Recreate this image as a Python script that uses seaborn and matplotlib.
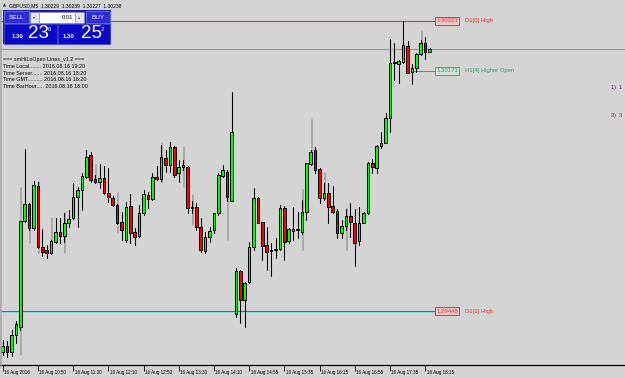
import numpy as np
import pandas as pd
import matplotlib
matplotlib.use("Agg")
import matplotlib.pyplot as plt
import seaborn as sns
from matplotlib.patches import Rectangle
from matplotlib.lines import Line2D

# ---------------- data (GBPUSD M5, 16 Aug 2016) ----------------
opens = [1.29325, 1.29343, 1.29325, 1.29376, 1.29400, 1.29719, 1.29770, 1.29698, 1.29824, 1.29641,
         1.29632, 1.29623, 1.29656, 1.29686, 1.29674, 1.29713, 1.29728, 1.29791, 1.29812, 1.29851,
         1.29917, 1.29845, 1.29836, 1.29848, 1.29803, 1.29788, 1.29767, 1.29716, 1.29662, 1.29764,
         1.29686, 1.29674, 1.29743, 1.29797, 1.29785, 1.29851, 1.29845, 1.29908, 1.29887, 1.29942,
         1.29863, 1.29881, 1.29881, 1.29758, 1.29761, 1.29701, 1.29629, 1.29671, 1.29692, 1.29743,
         1.29854, 1.29866, 1.29779, 1.29439, 1.29568, 1.29481, 1.29535, 1.29641, 1.29788, 1.29716,
         1.29647, 1.29629, 1.29632, 1.29635, 1.29758, 1.29659, 1.29689, 1.29695, 1.29686, 1.29746,
         1.29890, 1.29933, 1.29875, 1.29788, 1.29803, 1.29764, 1.29749, 1.29683, 1.29704, 1.29734,
         1.29713, 1.29659, 1.29713, 1.29743, 1.29893, 1.29878, 1.29945, 1.29954, 1.30029, 1.30194,
         1.30191, 1.30197, 1.30245, 1.30167, 1.30179, 1.30221, 1.30254, 1.30229]
highs = [1.29361, 1.29358, 1.29391, 1.29418, 1.29719, 1.29936, 1.29773, 1.29839, 1.29836, 1.29695,
         1.29647, 1.29662, 1.29728, 1.29728, 1.29743, 1.29752, 1.29833, 1.29821, 1.29863, 1.29933,
         1.29926, 1.29857, 1.29890, 1.29884, 1.29878, 1.29794, 1.29770, 1.29746, 1.29776, 1.29800,
         1.29698, 1.29767, 1.29812, 1.29806, 1.29863, 1.29884, 1.29948, 1.29933, 1.29957, 1.29945,
         1.29902, 1.29902, 1.29884, 1.29779, 1.29773, 1.29728, 1.29686, 1.29701, 1.29743, 1.29863,
         1.29887, 1.29872, 1.30107, 1.29577, 1.29571, 1.29535, 1.29656, 1.29818, 1.29791, 1.29716,
         1.29701, 1.29653, 1.29668, 1.29767, 1.29764, 1.29698, 1.29761, 1.29746, 1.29782, 1.29893,
         1.29933, 1.29942, 1.29878, 1.29833, 1.29833, 1.29824, 1.29755, 1.29722, 1.29755, 1.29773,
         1.29755, 1.29761, 1.29746, 1.29896, 1.29905, 1.29948, 1.29987, 1.30044, 1.30267, 1.30255,
         1.30203, 1.30321, 1.30261, 1.30191, 1.30224, 1.30264, 1.30273, 1.30239]
lows = [1.29316, 1.29310, 1.29313, 1.29352, 1.29391, 1.29716, 1.29692, 1.29692, 1.29638, 1.29614,
        1.29607, 1.29620, 1.29653, 1.29653, 1.29656, 1.29701, 1.29725, 1.29701, 1.29752, 1.29848,
        1.29836, 1.29833, 1.29818, 1.29800, 1.29776, 1.29764, 1.29710, 1.29662, 1.29656, 1.29653,
        1.29647, 1.29671, 1.29737, 1.29758, 1.29782, 1.29842, 1.29839, 1.29866, 1.29866, 1.29851,
        1.29836, 1.29872, 1.29743, 1.29743, 1.29692, 1.29626, 1.29623, 1.29656, 1.29683, 1.29737,
        1.29851, 1.29779, 1.29779, 1.29430, 1.29412, 1.29400, 1.29532, 1.29632, 1.29713, 1.29601,
        1.29571, 1.29553, 1.29607, 1.29632, 1.29601, 1.29653, 1.29662, 1.29668, 1.29680, 1.29722,
        1.29887, 1.29863, 1.29773, 1.29782, 1.29713, 1.29743, 1.29668, 1.29668, 1.29692, 1.29671,
        1.29583, 1.29647, 1.29713, 1.29740, 1.29863, 1.29863, 1.29939, 1.29954, 1.29987, 1.30143,
        1.30134, 1.30194, 1.30164, 1.30131, 1.30167, 1.30218, 1.30206, 1.30227]
closes = [1.29343, 1.29325, 1.29376, 1.29409, 1.29719, 1.29770, 1.29698, 1.29827, 1.29641, 1.29626,
          1.29623, 1.29659, 1.29686, 1.29674, 1.29713, 1.29725, 1.29791, 1.29812, 1.29854, 1.29911,
          1.29842, 1.29836, 1.29848, 1.29803, 1.29791, 1.29767, 1.29713, 1.29692, 1.29761, 1.29683,
          1.29671, 1.29743, 1.29800, 1.29785, 1.29851, 1.29845, 1.29911, 1.29887, 1.29942, 1.29857,
          1.29881, 1.29887, 1.29758, 1.29761, 1.29701, 1.29632, 1.29671, 1.29689, 1.29743, 1.29857,
          1.29872, 1.29791, 1.29987, 1.29568, 1.29481, 1.29532, 1.29641, 1.29788, 1.29713, 1.29644,
          1.29626, 1.29632, 1.29635, 1.29758, 1.29656, 1.29695, 1.29695, 1.29692, 1.29746, 1.29893,
          1.29926, 1.29872, 1.29788, 1.29803, 1.29761, 1.29746, 1.29683, 1.29704, 1.29734, 1.29716,
          1.29653, 1.29713, 1.29743, 1.29893, 1.29881, 1.29945, 1.29954, 1.30029, 1.30194, 1.30197,
          1.30200, 1.30248, 1.30164, 1.30179, 1.30221, 1.30254, 1.30227, 1.30238]

# grey "ghost" wick ranges drawn behind some candles
shadow_idx = [4, 6, 8, 11, 14, 21, 26, 36, 41, 43, 51, 68, 70, 73, 78, 95]
shadow_high = [1.29818, 1.29773, 1.29836, 1.29728, 1.29743, 1.29887, 1.29803, 1.29954, 1.29942,
               1.29797, 1.29872, 1.29812, 1.30023, 1.29863, 1.29755, 1.30291]
shadow_low = [1.29316, 1.29653, 1.29623, 1.29620, 1.29623, 1.29833, 1.29683, 1.29833, 1.29821,
              1.29707, 1.29662, 1.29632, 1.29887, 1.29782, 1.29632, 1.30218]

tick_bars = [0, 8, 16, 24, 32, 40, 48, 56, 64, 72, 80, 88, 96]
tick_labels = ["16 Aug 2016", "16 Aug 10:50", "16 Aug 11:30", "16 Aug 12:10", "16 Aug 12:50",
               "16 Aug 13:30", "16 Aug 14:10", "16 Aug 14:55", "16 Aug 15:35", "16 Aug 16:15",
               "16 Aug 16:55", "16 Aug 17:35", "16 Aug 18:15"]

level_prices = [1.30321, 1.30171, 1.29448]
level_names = ["D1[0] High", "H1[4] Higher Open", "D1[1] High"]
level_texts = ["1.30321", "1.30171", "1.29448"]
bid_price = 1.30236

info_lines = ["=== smHiLoOpen Lines_v1.2 ===",
              "Time Local........ 2016.08.16 19:20",
              "Time Server....... 2016.08.16 18:20",
              "Time GMT.......... 2016.08.16 16:20",
              "Time BarHour..... 2016.08.16 18:00"]

# ---------------- figure ----------------
sns.set_theme(style="white")
plt.rcParams["font.family"] = ["Liberation Sans", "DejaVu Sans"]
BG = "#d4d4d4"
W, H = 625, 378
fig = plt.figure(figsize=(W / 100, H / 100), dpi=100)
fig.patch.set_facecolor(BG)

ax = fig.add_axes([0, 13 / H, 1, 355 / H])
ax.set_facecolor(BG)
ax.set_xlim(-2.7 / 4.4, (W - 2.7) / 4.4)
ax.set_ylim(1.292856, 1.303541)

n = len(opens)
idx = np.arange(n)
o = np.array(opens); c = np.array(closes); hi = np.array(highs); lo = np.array(lows)

# ghost wicks
gdf = pd.DataFrame({"bar": np.repeat(np.array(shadow_idx) + 0.25, 2),
                    "price": np.ravel(np.column_stack([shadow_high, shadow_low]))})
sns.lineplot(data=gdf, x="bar", y="price", units="bar", estimator=None, sort=False,
             color="#9c9c9c", linewidth=1.1, ax=ax, zorder=1, legend=False)

# level lines
ax.axhline(bid_price, color="#8e96a4", lw=0.75, zorder=0.5)
ax.hlines(level_prices[0], -1, 98.25, color="#ff2020", lw=0.75, zorder=0.6)
ax.hlines(level_prices[1], 93.0, 98.25, color="#4c9a74", lw=0.75, zorder=0.6)
ax.hlines(level_prices[2], -1, 98.25, color="#ff2020", lw=0.75, zorder=0.6)
ax.hlines(level_prices[2] - 0.00003, -1, 98.25, color="#8fe0e0", lw=0.75, zorder=0.55)

# wicks
wdf = pd.DataFrame({"bar": np.repeat(idx, 2), "price": np.ravel(np.column_stack([hi, lo]))})
sns.lineplot(data=wdf, x="bar", y="price", units="bar", estimator=None, sort=False,
             color="black", linewidth=0.75, ax=ax, zorder=2, legend=False)

# bodies
bottoms = np.minimum(o, c)
heights = np.maximum(np.abs(c - o), 0.000005)
cols = ["#00ff00" if cc >= oo else "#ff0000" for oo, cc in zip(o, c)]
ax.bar(idx, heights, bottom=bottoms, width=0.6, color=cols, edgecolor="black",
       linewidth=0.7, zorder=3)

# level labels
lvl_style = [("#e83030", "#f2c6c6", "#e02020"), ("#3a9a6a", "#d2e2da", "#3a9a6a"),
             ("#e83030", "#f2c6c6", "#e02020")]
for p, name, txt, (tc, fc, ec) in zip(level_prices, level_names, level_texts, lvl_style):
    ax.text(101.0, p, txt, ha="center", va="center", fontsize=4.3, color=tc, zorder=5,
            bbox=dict(boxstyle="square,pad=0.2", fc=fc, ec=ec, lw=0.6))
    ax.text(105.0, p, name, ha="left", va="center", fontsize=4.2, color=tc, zorder=5)

# axes styling
ax.set_xlabel(""); ax.set_ylabel("")
for s in ["top", "left", "right"]:
    ax.spines[s].set_visible(False)
ax.spines["bottom"].set_color("black")
ax.spines["bottom"].set_linewidth(0.9)
ax.set_yticks([])
ax.set_xticks(tick_bars)
ax.set_xticklabels([])
ax.tick_params(axis="x", direction="out", length=4, width=0.6, color="black", bottom=True)
for b, lab in zip(tick_bars, tick_labels):
    ax.text(b + 0.35, -7.5 / 355, lab, transform=ax.get_xaxis_transform(), ha="left",
            va="center", fontsize=3.3, color="black", clip_on=False)

# left border
fig.add_artist(Line2D([1 / W, 1 / W], [13 / H, 1 - 10 / H], color="#a8a8a8", lw=1.2,
                      transform=fig.transFigure))


def fx(x):
    return x / W


def fy(y):
    return 1 - y / H


def rect(x0, y0, x1, y1, **kw):
    fig.add_artist(Rectangle((fx(x0), fy(y1)), (x1 - x0) / W, (y1 - y0) / H,
                             transform=fig.transFigure, **kw))


# title bar
fig.text(fx(2.5), fy(5.5), "▲", fontsize=2.6, color="black", va="center", ha="left",
         family="DejaVu Sans")
fig.text(fx(9), fy(5.8), "GBPUSD,M5  1.30229  1.30239  1.30227  1.30238", fontsize=3.6,
         color="black", va="center", ha="left")

# one-click trading panel
rect(3, 10, 111, 44, fc="#1c1cb4", ec="none", zorder=10)
rect(4, 11.5, 28.5, 23, fc="#2e2ed8", ec="#7d7df5", lw=0.5, zorder=11)
rect(85.5, 11.5, 110, 23, fc="#2e2ed8", ec="#7d7df5", lw=0.5, zorder=11)
rect(30, 12, 39, 22.5, fc="#e4e4ec", ec="#9090a0", lw=0.4, zorder=11)
rect(39, 12, 75, 22.5, fc="white", ec="#9090a0", lw=0.4, zorder=11)
rect(75, 12, 84, 22.5, fc="#e4e4ec", ec="#9090a0", lw=0.4, zorder=11)
rect(4, 24, 57, 43.5, fc="#0a0ac4", ec="#4848e0", lw=0.5, zorder=11)
rect(58, 24, 110, 43.5, fc="#0a0ac4", ec="#4848e0", lw=0.5, zorder=11)
fig.text(fx(16.3), fy(17.3), "SELL", fontsize=4.6, color="white", ha="center", va="center", zorder=12)
fig.text(fx(97.8), fy(17.3), "BUY", fontsize=4.6, color="white", ha="center", va="center", zorder=12)
fig.text(fx(34.5), fy(17.3), "▾", fontsize=3, color="#404050", ha="center", va="center",
         zorder=12, family="DejaVu Sans")
fig.text(fx(79.5), fy(17.3), "▴", fontsize=3, color="#404050", ha="center", va="center",
         zorder=12, family="DejaVu Sans")
fig.text(fx(73), fy(17.3), "0.01", fontsize=4.2, color="black", ha="right", va="center", zorder=12)
for x_small, x_big, x_sup, big, sup in [(12, 28, 47.5, "23", "6"), (63, 81, 100.5, "25", "2")]:
    fig.text(fx(x_small), fy(36.5), "1.30", fontsize=4.3, color="white", ha="left", va="center",
             zorder=12, weight="bold")
    fig.text(fx(x_big), fy(33.5), big, fontsize=13.5, color="white", ha="left", va="center",
             zorder=12)
    fig.text(fx(x_sup), fy(29.5), sup, fontsize=4.3, color="white", ha="left", va="center",
             zorder=12)

# info block
for i, line in enumerate(info_lines):
    fig.text(fx(3), fy(60 + 6.6 * i), line, fontsize=3.9, color="black", ha="left", va="center")

# right-edge labels
fig.text(fx(611), fy(88), "1)  1", fontsize=4.0, color="#7a1a78", ha="left", va="center")
fig.text(fx(611), fy(115), "3)  3", fontsize=4.0, color="#7a1a78", ha="left", va="center")

fig.savefig("out.png", dpi=100, facecolor=BG)
